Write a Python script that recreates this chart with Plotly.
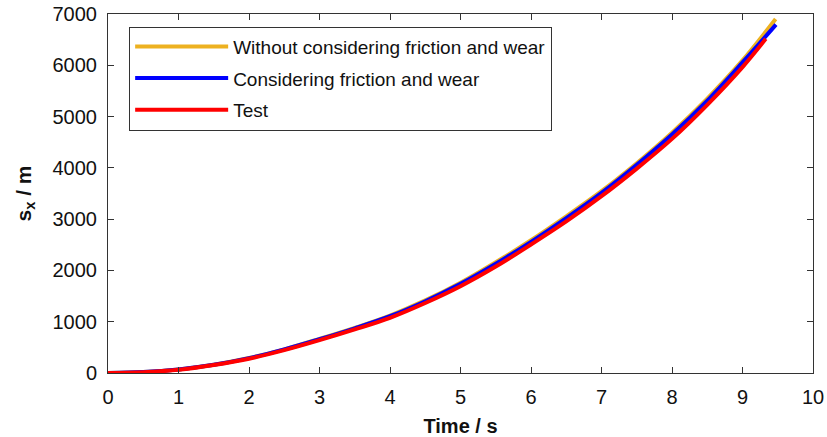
import plotly.graph_objects as go

# Data
t_common = [0, 0.5, 1, 1.5, 2, 2.5, 3, 3.5, 4, 4.5, 5, 5.5, 6, 6.5, 7, 7.5, 8, 8.5, 9]
s_without = [0, 18, 70, 162, 292, 462, 665, 880, 1120, 1415, 1760, 2160, 2590, 3055, 3545, 4090, 4685, 5350, 6095]
s_with = [0, 18, 70, 160, 290, 460, 658, 872, 1107, 1400, 1738, 2130, 2557, 3020, 3512, 4060, 4650, 5310, 6055]
s_test = [0, 15, 62, 155, 278, 445, 640, 850, 1076, 1365, 1692, 2075, 2505, 2955, 3447, 3985, 4565, 5230, 5965]
t_end_without, s_end_without = 9.47, 6904
t_end_with, s_end_with = 9.475, 6793
t_end_test, s_end_test = 9.33, 6515

x_ticks = [0, 1, 2, 3, 4, 5, 6, 7, 8, 9, 10]
y_ticks = [0, 1000, 2000, 3000, 4000, 5000, 6000, 7000]

names = ["Without considering friction and wear", "Considering friction and wear", "Test"]
colors = ["#EDB120", "#0000FF", "#FF0000"]

fig = go.Figure()
series = [
    (t_common + [t_end_without], s_without + [s_end_without]),
    (t_common + [t_end_with], s_with + [s_end_with]),
    (t_common + [t_end_test], s_test + [s_end_test]),
]
for i, ((tx, sy), name, col) in enumerate(zip(series, names, colors)):
    fig.add_trace(go.Scatter(x=tx, y=sy, mode="lines", name=name, legendgroup=f"g{i}",
                             line=dict(color=col, width=4, shape="spline", smoothing=1.0)))

font_fam = "Liberation Sans, Arial, sans-serif"
axis_common = dict(showline=True, linecolor="#333333", linewidth=1, mirror="ticks",
                   ticks="inside", ticklen=6, tickcolor="#333333", showgrid=False,
                   zeroline=False, automargin=False,
                   tickfont=dict(family=font_fam, size=20, color="#111111"))

fig.update_layout(
    width=827, height=437,
    margin=dict(l=108, r=14, t=14, b=64),
    plot_bgcolor="white", paper_bgcolor="white",
    font=dict(family=font_fam, color="#111111"),
    xaxis=dict(range=[0, 10], tickvals=x_ticks, ticktext=[str(v) for v in x_ticks],
               ticklabelstandoff=6,
               title=dict(text="<b>Time / s</b>", font=dict(size=20), standoff=11),
               **axis_common),
    yaxis=dict(range=[0, 7000], tickvals=y_ticks, ticktext=[str(v) for v in y_ticks],
               ticklabelstandoff=6,
               title=dict(text="<b>s<sub>x</sub> / m</b>", font=dict(size=21), standoff=15),
               **axis_common),
    legend=dict(x=0.03, y=0.965, xanchor="left", yanchor="top",
                bordercolor="#333333", borderwidth=1, bgcolor="white",
                font=dict(family=font_fam, size=19, color="#111111"),
                itemwidth=93, tracegroupgap=4),
    showlegend=True,
)

fig.write_html("out.html")
